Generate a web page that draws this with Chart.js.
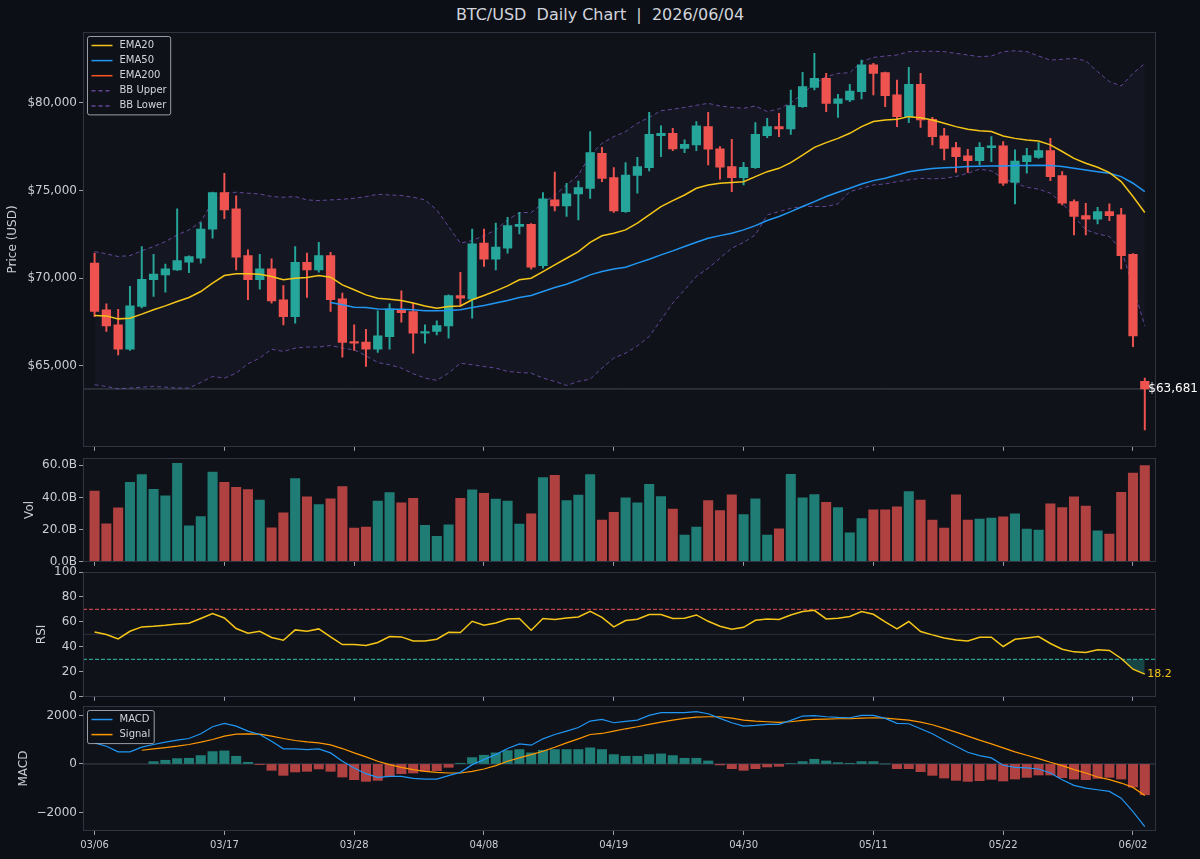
<!DOCTYPE html>
<html>
<head>
<meta charset="utf-8">
<script src="https://cdn.jsdelivr.net/npm/chart.js@4.4.1/dist/chart.umd.min.js"></script>
<style>
html, body { margin: 0; padding: 0; background: #0c0f15; }
#wrap { position: relative; width: 1200px; height: 859px; overflow: hidden; }
#title { position: absolute; left: 0; top: 5px; width: 1200px; text-align: center;
  font: 16px "DejaVu Sans", sans-serif; color: #d1d4dc; white-space: pre; }
canvas { position: absolute; left: 0; }
</style>
</head>
<body>
<div id="wrap">
  <div id="title">BTC/USD  Daily Chart  |  2026/06/04</div>
  <canvas id="priceChart" width="1200" height="434" style="top:22px"></canvas>
  <canvas id="volChart" width="1200" height="123" style="top:448px"></canvas>
  <canvas id="rsiChart" width="1200" height="144" style="top:562px"></canvas>
  <canvas id="macdChart" width="1200" height="163" style="top:696px"></canvas>
</div>
<script>
// ---- data ----
const dates = [
  "03/06","03/07","03/08","03/09","03/10","03/11","03/12","03/13","03/14","03/15",
  "03/16","03/17","03/18","03/19","03/20","03/21","03/22","03/23","03/24","03/25",
  "03/26","03/27","03/28","03/29","03/30","03/31","04/01","04/02","04/03","04/04",
  "04/05","04/06","04/07","04/08","04/09","04/10","04/11","04/12","04/13","04/14",
  "04/15","04/16","04/17","04/18","04/19","04/20","04/21","04/22","04/23","04/24",
  "04/25","04/26","04/27","04/28","04/29","04/30","05/01","05/02","05/03","05/04",
  "05/05","05/06","05/07","05/08","05/09","05/10","05/11","05/12","05/13","05/14",
  "05/15","05/16","05/17","05/18","05/19","05/20","05/21","05/22","05/23","05/24",
  "05/25","05/26","05/27","05/28","05/29","05/30","05/31","06/01","06/02","06/03"
];
const xTickLabels = ["03/06","03/17","03/28","04/08","04/19","04/30","05/11","05/22","06/02"];

const open = [
  70860,68200,67340,65950,68390,69910,70190,70480,70910,71140,
  72800,74890,73960,71290,69910,70530,68770,67810,70910,70480,
  71290,68820,66390,66350,65950,66670,68200,68100,66860,66960,
  67280,69010,68800,72000,71080,71710,72950,73080,70720,74470,
  74130,74810,75130,77130,75740,73800,75860,76310,78140,78270,
  77410,77600,78650,77380,76370,75740,76310,78140,78650,78520,
  79790,80890,81410,79980,80170,80650,82170,81730,80460,79220,
  81070,79070,78120,77450,76980,76710,77450,77550,75460,76650,
  76900,77280,75860,74370,73570,73370,73800,73610,71370,64110
];
const high = [
  71430,68540,68230,69530,71810,71370,70800,73960,71280,73180,
  74920,75990,74700,71620,71370,71100,69580,71810,71430,72050,
  71480,69150,67340,67090,68140,68540,69280,68580,67340,67570,
  69050,70340,72800,72810,73140,73480,73760,73120,74890,76050,
  75420,75550,78370,77470,76310,76600,76900,79470,78690,78560,
  77890,78940,79470,77510,77930,76620,78880,79130,79410,80740,
  81750,82830,81690,80490,81070,82450,82260,81770,81310,82030,
  81690,79180,78560,77760,77360,77740,78080,77790,77320,77410,
  77740,77980,76080,74470,74280,74050,74240,73990,71400,64300
];
const low = [
  67810,66960,65630,65880,68300,68960,69200,70440,70320,70860,
  72280,73400,70480,68770,69370,68580,67340,67430,68900,70340,
  68100,65500,65880,64960,65760,65950,67490,65720,66290,66770,
  66580,68390,67720,70670,70480,71430,72530,70510,70570,73840,
  73520,73330,74560,75510,73750,73750,74850,76120,76940,77280,
  77170,77280,76460,75650,74940,75320,76270,78020,78080,78210,
  79750,80740,79510,79180,80080,80230,80460,79790,78650,78880,
  78610,77600,76750,76030,76030,76460,76650,75290,74240,75990,
  76840,75570,74180,72470,72470,73100,73290,70530,66100,61350
];
const close = [
  68100,67280,65950,68420,69940,70230,70530,71010,71240,72810,
  74890,73900,71200,69910,70530,68710,67810,70910,70480,71290,
  68770,66330,66290,65950,66710,68250,68040,66860,66960,67300,
  69010,68860,71960,71080,71770,73000,73080,70630,74530,74130,
  74810,75170,77170,75700,73840,75890,76370,78210,78270,77380,
  77640,78690,77360,76330,75740,76330,78210,78650,78520,79850,
  80930,81410,79980,80230,80680,82170,81690,80420,79220,81070,
  79030,78080,77410,76940,76710,77470,77550,75420,76690,77000,
  77280,75800,74280,73520,73370,73800,73570,71290,66710,63681
];

const ema20 = [
  67870,67850,67680,67720,67950,68200,68420,68670,68900,69240,
  69720,70150,70250,70250,70230,70100,69910,70000,70040,70150,
  70060,69620,69340,69050,68860,68800,68730,68580,68420,68290,
  68390,68420,68770,69010,69280,69560,69910,70000,70380,70760,
  71140,71520,72040,72420,72570,72760,73140,73610,74090,74430,
  74750,75130,75320,75420,75460,75510,75800,76080,76270,76600,
  77030,77470,77740,77980,78270,78650,78940,79030,79070,79220,
  79160,79030,78840,78650,78500,78420,78370,78120,77980,77890,
  77830,77610,77230,76840,76560,76330,76030,75510,74660,73750
];
const ema50 = [
  null,null,null,null,null,null,null,null,null,null,
  null,null,null,null,null,null,null,null,null,null,
  68610,68480,68350,68330,68250,68230,68230,68200,68140,68140,
  68160,68200,68330,68440,68580,68730,68900,69010,69240,69470,
  69660,69910,70190,70380,70530,70630,70860,71080,71330,71560,
  71810,72050,72280,72430,72570,72760,73000,73290,73520,73800,
  74090,74370,74660,74910,75130,75380,75570,75700,75890,76080,
  76180,76260,76310,76330,76370,76390,76410,76410,76430,76430,
  76450,76430,76370,76270,76180,76080,75990,75800,75420,74940
];
const ema200 = [];
const bbUpper = [
  71520,71390,71240,71290,71560,71810,72090,72470,72760,73230,
  74370,74850,74910,74850,74810,74660,74620,74660,74470,74430,
  74470,74510,74560,74660,74790,74750,74720,74620,74470,73900,
  72950,72000,72150,72430,72760,73330,73750,73750,74280,74750,
  75320,75890,77030,77700,78080,78370,78840,79180,79560,79640,
  79750,79870,79980,79830,79750,79700,79830,79510,79660,80020,
  80510,81120,81500,81690,81730,82360,82600,82680,82740,82930,
  82950,82950,82930,82830,82740,82640,82680,82930,82980,82930,
  82680,82450,82490,82550,82410,81790,81220,80970,81690,82260
];
const bbLower = [
  63920,63820,63690,63730,63780,63820,63780,63730,63730,64050,
  64390,64300,64580,65120,65440,65950,65820,66010,66070,66070,
  66160,66010,65910,65570,65190,65060,64870,64550,64300,64170,
  64580,65150,65060,64960,64870,64680,64620,64580,64300,64110,
  63880,64110,64240,64870,65440,65720,66140,66670,67620,68580,
  69340,70100,70570,71140,71710,72040,72470,73610,73800,73990,
  74090,74090,74090,74240,74940,75130,75320,75380,75510,75610,
  75700,75670,75700,75800,75990,76220,76120,75700,75420,75190,
  75080,74850,74280,73520,72760,72530,72380,71620,69530,67280
];

// volume in billions
const volume = [
  43.9,23.6,33.5,49.4,54.2,45.1,41.0,61.2,22.3,28.1,
  55.7,49.4,46.3,44.9,38.3,21.1,30.4,51.7,40.3,35.6,
  39.1,46.8,20.9,21.5,37.7,43.0,36.6,39.5,22.6,15.9,
  23.0,39.5,44.7,42.6,38.9,37.7,23.4,29.8,52.3,53.8,
  38.1,41.4,54.2,25.9,30.8,39.7,36.6,48.2,40.6,32.7,
  16.6,21.5,38.1,31.9,41.6,29.4,39.1,16.6,20.5,54.4,
  39.7,41.8,37.0,33.7,18.0,26.9,32.3,32.3,34.1,43.7,
  38.3,25.9,20.9,41.6,25.9,26.5,27.1,27.9,29.8,20.3,
  19.7,36.0,33.7,40.3,34.6,19.2,17.2,43.2,55.2,59.8
];

const rsi = [
  52.0,49.9,46.4,52.5,56.0,56.5,57.3,58.4,58.9,62.7,
  66.7,63.2,54.7,50.9,52.5,47.5,45.3,53.6,52.5,54.4,
  48.0,41.9,41.9,41.1,43.5,48.3,48.0,44.8,44.8,46.1,
  51.7,51.5,60.5,57.3,59.2,62.4,62.7,53.3,62.7,61.9,
  63.2,64.0,68.5,63.7,56.0,61.1,62.1,65.9,65.9,62.7,
  62.9,65.6,60.5,56.5,54.1,55.7,61.3,62.4,61.9,65.6,
  68.3,69.3,62.4,62.9,64.3,68.3,66.1,60.0,54.4,60.3,
  52.3,49.6,47.2,45.6,44.8,47.7,47.7,40.3,46.1,47.2,
  48.3,42.7,38.1,36.0,35.5,37.6,37.1,30.7,22.1,18.2
];

const macd = [
  869,731,496,496,690,800,896,979,1048,1241,
  1531,1669,1558,1351,1214,938,621,621,593,621,
  455,110,-165,-400,-552,-510,-510,-593,-621,-621,
  -483,-345,-28,179,386,634,827,772,1034,1214,
  1351,1503,1765,1834,1696,1751,1806,2000,2110,2110,
  2110,2151,2068,1875,1696,1558,1586,1627,1627,1793,
  1972,1986,1944,1917,1903,2000,2000,1875,1669,1655,
  1448,1241,979,731,483,345,248,-55,-138,-165,
  -207,-372,-648,-883,-993,-1062,-1131,-1407,-1958,-2579
];
const signal = [
  null,null,null,null,565,621,676,731,800,896,
  1007,1145,1227,1241,1227,1145,1048,965,910,869,
  786,634,455,290,110,-28,-138,-234,-303,-345,
  -372,-372,-303,-207,-69,110,248,386,524,690,
  869,1034,1214,1255,1351,1448,1531,1627,1724,1806,
  1875,1931,1944,1944,1889,1806,1765,1738,1710,1738,
  1793,1834,1848,1862,1862,1889,1903,1889,1848,1806,
  1724,1613,1462,1310,1145,979,827,662,496,359,
  221,69,-69,-234,-372,-538,-648,-786,-965,-1296
];
const macdHist = [
  null,null,null,null,null,97,152,221,234,345,
  510,538,317,69,-28,-262,-469,-331,-303,-207,
  -303,-538,-648,-717,-676,-510,-400,-372,-303,-276,
  -138,30,262,359,455,552,593,455,565,593,
  593,593,662,593,386,317,317,386,414,345,
  234,234,124,-41,-193,-262,-193,-124,-97,20,
  97,193,124,55,28,97,97,0,-193,-193,
  -317,-469,-579,-676,-717,-690,-634,-703,-621,-552,
  -455,-455,-565,-621,-648,-593,-552,-621,-951,-1269
];

const priceTicks = [65000, 70000, 75000, 80000];
const volTicks = [0, 20, 40, 60];
const rsiTicks = [0, 20, 40, 60, 80, 100];
const macdTicks = [-2000, 0, 2000];

// ---- look ----
const UP = "#26a69a", DOWN = "#ef5350";
const UP_A = "rgba(38,166,154,0.72)", DOWN_A = "rgba(239,83,80,0.72)";
const TXT = "#c9cdd6";
const X_MIN = -0.98, X_MAX = 89.95;

Chart.defaults.font.family = '"DejaVu Sans", sans-serif';
Chart.defaults.color = TXT;
Chart.defaults.animation = false;

const last = dates.length - 1;
const xTickIdx = xTickLabels.map(l => dates.indexOf(l));
const pts = arr => arr.map((v, i) => ({ x: i, y: v }));
const isUp = i => close[i] >= open[i];

// panel background + frame
const panelFrame = {
  id: "panelFrame",
  beforeDraw(chart) {
    const { ctx, chartArea: a } = chart;
    ctx.save();
    ctx.fillStyle = "#0f1219";
    ctx.fillRect(a.left, a.top, a.right - a.left, a.bottom - a.top);
    ctx.restore();
  },
  afterDraw(chart) {
    const { ctx, chartArea: a } = chart;
    ctx.save();
    ctx.strokeStyle = "#2f3440";
    ctx.lineWidth = 1;
    ctx.strokeRect(Math.round(a.left) + 0.5, Math.round(a.top) + 0.5,
      Math.round(a.right - a.left) - 1, Math.round(a.bottom - a.top) - 1);
    ctx.restore();
  }
};

// horizontal reference lines and value labels
const guides = {
  id: "guides",
  beforeDatasetsDraw(chart, args, opts) {
    const { ctx, chartArea: a } = chart;
    (opts.lines || []).forEach(g => {
      const y = chart.scales.y.getPixelForValue(g.value);
      ctx.save();
      ctx.strokeStyle = g.color;
      ctx.lineWidth = g.width || 1;
      ctx.setLineDash(g.dash || []);
      ctx.beginPath();
      ctx.moveTo(a.left, y);
      ctx.lineTo(a.right, y);
      ctx.stroke();
      ctx.restore();
    });
  },
  afterDraw(chart, args, opts) {
    const ctx = chart.ctx;
    (opts.labels || []).forEach(t => {
      ctx.save();
      ctx.font = t.font;
      ctx.fillStyle = t.color;
      ctx.textBaseline = "middle";
      ctx.textAlign = "left";
      ctx.fillText(t.text, chart.scales.x.getPixelForValue(t.x), chart.scales.y.getPixelForValue(t.y));
      ctx.restore();
    });
  }
};

// matplotlib style boxed legend in the upper left corner
const boxLegend = {
  id: "boxLegend",
  afterDraw(chart, args, opts) {
    if (!opts.show) return;
    const items = chart.data.datasets.filter(d => d.label);
    const { ctx, chartArea: a } = chart;
    ctx.save();
    ctx.font = '10px "DejaVu Sans"';
    const rowH = 15.1;
    const x0 = a.left + 4.5, y0 = a.top + 4.5;
    const w = 32 + Math.max(...items.map(d => ctx.measureText(d.label).width)) + 4;
    const h = 18 + (items.length - 1) * rowH;
    ctx.fillStyle = "rgba(15,18,25,0.85)";
    ctx.strokeStyle = "rgba(200,204,212,0.75)";
    ctx.lineWidth = 1;
    ctx.beginPath();
    ctx.roundRect(x0, y0, w, h, 2);
    ctx.fill();
    ctx.stroke();
    items.forEach((d, k) => {
      const y = y0 + 9 + rowH * k;
      ctx.strokeStyle = d.borderColor;
      ctx.lineWidth = 1.5;
      ctx.setLineDash(d.borderDash || []);
      ctx.beginPath();
      ctx.moveTo(x0 + 4, y);
      ctx.lineTo(x0 + 25, y);
      ctx.stroke();
      ctx.setLineDash([]);
      ctx.fillStyle = "#d1d4dc";
      ctx.textBaseline = "middle";
      ctx.fillText(d.label, x0 + 32, y);
    });
    ctx.restore();
  }
};

function xAxis(showLabels, h) {
  return {
    type: "linear",
    min: X_MIN,
    max: X_MAX,
    offset: false,
    afterBuildTicks: s => { s.ticks = xTickIdx.map(v => ({ value: v })); },
    afterFit: s => { s.height = h; },
    grid: { offset: false, drawOnChartArea: false, drawTicks: true, tickLength: 4, color: "#9aa0aa" },
    border: { display: false },
    ticks: {
      display: showLabels, autoSkip: false, maxRotation: 0, padding: 4,
      color: TXT, font: { size: 10 },
      callback: v => dates[v]
    }
  };
}

function yAxis(padL, title, min, max, tickVals, fmt) {
  return {
    position: "left",
    min: min,
    max: max,
    afterFit: s => { s.width = 83 - padL; },
    afterBuildTicks: s => { s.ticks = tickVals.map(v => ({ value: v })); },
    grid: { drawOnChartArea: false, tickLength: 4, color: "#9aa0aa" },
    border: { display: false },
    ticks: { color: TXT, font: { size: 12 }, padding: 2, callback: fmt },
    title: { display: true, text: title, color: TXT, font: { size: 12 }, padding: 0 }
  };
}

function panel(id, padL, datasets, xOpts, yOpts, pluginOpts) {
  return new Chart(document.getElementById(id), {
    type: "bar",
    data: { datasets: datasets },
    options: {
      responsive: false,
      maintainAspectRatio: false,
      animation: false,
      layout: { padding: { top: 10, left: padL, right: 44, bottom: 4 } },
      scales: { x: xOpts, y: yOpts },
      plugins: Object.assign({ legend: { display: false }, tooltip: { enabled: false } }, pluginOpts)
    },
    plugins: [panelFrame, guides, boxLegend]
  });
}

// ---- price panel ----
const candleColors = dates.map((d, i) => isUp(i) ? UP : DOWN);
const lineDs = (label, data, color, extra) => Object.assign({
  type: "line", label: label, data: pts(data), borderColor: color, borderWidth: 1.5,
  pointRadius: 0, tension: 0, fill: false, order: 0
}, extra || {});

panel("priceChart", 6, [
  lineDs("EMA20", ema20, "#f5c518"),
  lineDs("EMA50", ema50, "#2196f3"),
  lineDs("EMA200", ema200, "#ff5722"),
  lineDs("BB Upper", bbUpper, "rgba(126,87,194,0.75)",
    { borderWidth: 1, borderDash: [4, 3], order: 3, fill: "+1", backgroundColor: "rgba(120,110,200,0.05)" }),
  lineDs("BB Lower", bbLower, "rgba(126,87,194,0.75)",
    { borderWidth: 1, borderDash: [4, 3], order: 3 }),
  {
    type: "bar", data: dates.map((d, i) => ({ x: i, y: [low[i], high[i]] })),
    backgroundColor: candleColors, barThickness: 1.3, grouped: false, order: 2
  },
  {
    type: "bar", data: dates.map((d, i) => ({ x: i, y: [Math.min(open[i], close[i]), Math.max(open[i], close[i])] })),
    backgroundColor: candleColors, barThickness: 8.6, grouped: false, minBarLength: 1.5, order: 1
  }
], xAxis(false, 5),
  yAxis(6, "Price (USD)", 60380, 84050, priceTicks, v => "$" + v.toLocaleString("en-US")),
  {
    boxLegend: { show: true },
    guides: {
      lines: [{ value: close[last], color: "#454a56", width: 1 }],
      labels: [{ x: last + 0.3, y: close[last], text: "$" + close[last].toLocaleString("en-US"),
        color: "#ffffff", font: '12px "DejaVu Sans"' }]
    }
  });

// ---- volume panel ----
panel("volChart", 23, [
  {
    type: "bar", data: pts(volume),
    backgroundColor: dates.map((d, i) => isUp(i) ? UP_A : DOWN_A),
    barThickness: 9.4
  }
], xAxis(false, 5),
  yAxis(23, "Vol", 0, 64.5, volTicks, v => v.toFixed(1) + "B"),
  {});

// ---- RSI panel ----
panel("rsiChart", 35, [
  {
    type: "line", data: pts(rsi), borderColor: "#f5c518", borderWidth: 1.5, pointRadius: 0, tension: 0,
    fill: { target: { value: 30 }, above: "rgba(0,0,0,0)", below: "rgba(38,166,154,0.35)" }
  }
], xAxis(false, 5),
  yAxis(35, "RSI", 0, 100, rsiTicks, v => String(v)),
  {
    guides: {
      lines: [
        { value: 70, color: "#c0464b", dash: [4, 2], width: 1.2 },
        { value: 50, color: "#2a2e39" },
        { value: 30, color: "#2a9d8f", dash: [4, 2], width: 1.2 }
      ],
      labels: [{ x: last + 0.2, y: rsi[last], text: rsi[last].toFixed(1), color: "#f5c518", font: '11px "DejaVu Sans"' }]
    }
  });

// ---- MACD panel ----
panel("macdChart", 17, [
  lineDs("MACD", macd, "#2196f3", { borderWidth: 1.2 }),
  lineDs("Signal", signal, "#ff9800", { borderWidth: 1.2 }),
  {
    type: "bar", data: pts(macdHist),
    backgroundColor: macdHist.map(v => v >= 0 ? UP_A : DOWN_A),
    barThickness: 9.4, order: 1
  }
], xAxis(true, 24),
  yAxis(17, "MACD", -2760, 2386, macdTicks, v => v < 0 ? "\u2212" + Math.abs(v) : String(v)),
  {
    boxLegend: { show: true },
    guides: { lines: [{ value: 0, color: "#3a3f4b" }] }
  });
</script>
</body>
</html>
